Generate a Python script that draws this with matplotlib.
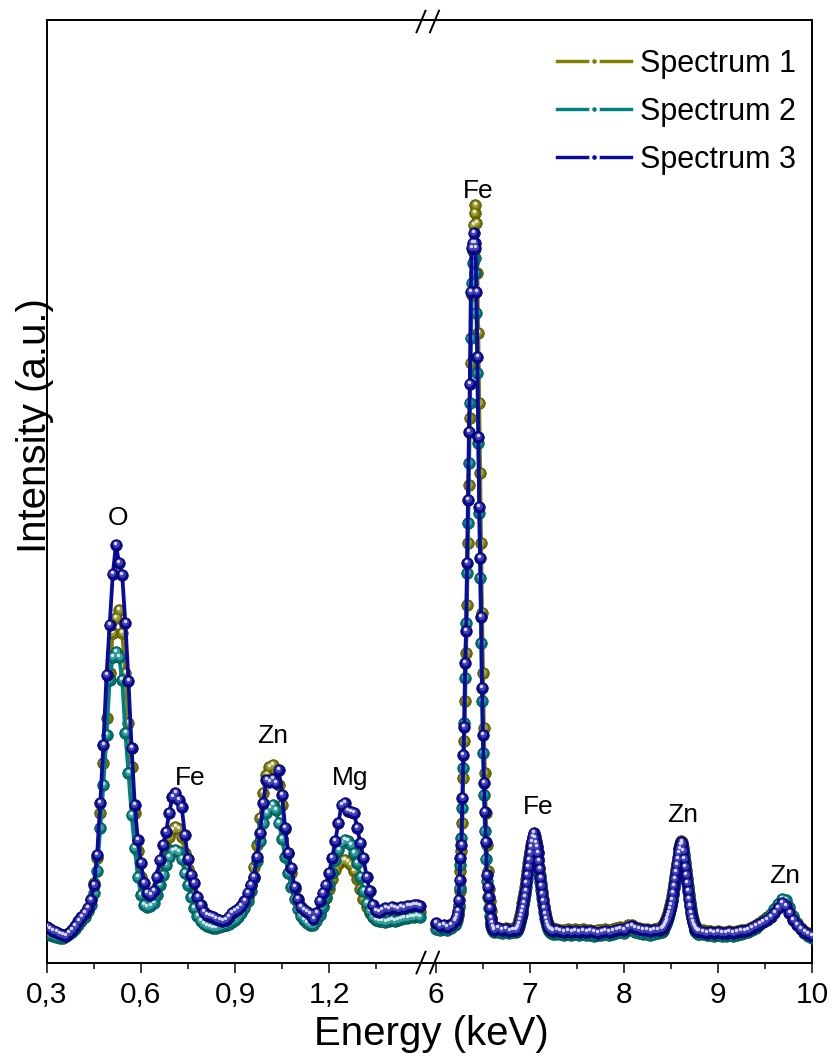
import numpy as np
import matplotlib
matplotlib.use("Agg")
import matplotlib.pyplot as plt
import matplotlib.transforms as mtransforms
from matplotlib.colors import to_rgb
from matplotlib.legend_handler import HandlerTuple
from matplotlib.lines import Line2D
from matplotlib.ticker import FixedLocator, FixedFormatter

plt.rcParams['font.family'] = ['Liberation Sans', 'DejaVu Sans']


def channels(start, stop, step):
    """Inclusive energy channel grid (keV)."""
    n = int(round((stop - start) / step)) + 1
    return np.round(start + step * np.arange(n), 2)


# ---------------- data ----------------
series_names = ['Spectrum 1', 'Spectrum 2', 'Spectrum 3']
series_colors = ['#808000', '#008080', '#0a0aa0']

# Low-energy window: O K, Fe L, Zn L, Mg K (0.01 keV channels)
low_energy = channels(0.30, 1.49, 0.01)
low_s1 = [33, 31, 30, 29, 28, 27, 28, 30, 33, 36,
          40, 44, 49, 55, 64, 80, 105, 150, 200, 245,
          290, 330, 345, 353, 330, 290, 240, 196, 150, 112,
          86, 70, 63, 62, 66, 76, 90, 104, 116, 126,
          133, 136, 134, 126, 110, 94, 80, 68, 58, 50,
          44, 41, 39, 38, 37, 37, 37, 38, 40, 42,
          45, 48, 52, 58, 66, 78, 96, 118, 145, 170,
          188, 196, 198, 192, 178, 158, 134, 110, 90, 74,
          62, 53, 47, 43, 40, 40, 44, 50, 57, 65,
          74, 84, 93, 99, 102, 103, 101, 98, 92, 84,
          74, 64, 56, 50, 46, 44, 43, 43, 44, 45,
          45, 46, 46, 47, 48, 48, 49, 50, 50, 51]
low_s2 = [30, 28, 27, 26, 25, 25, 27, 29, 31, 34,
          38, 42, 46, 52, 58, 70, 92, 135, 178, 228,
          283, 306, 311, 306, 283, 230, 190, 148, 115, 86,
          68, 58, 56, 57, 60, 68, 78, 88, 98, 106,
          112, 113, 111, 104, 90, 78, 66, 55, 47, 42,
          39, 37, 36, 35, 35, 36, 37, 38, 39, 41,
          43, 46, 50, 55, 62, 72, 85, 102, 122, 140,
          150, 155, 158, 153, 140, 124, 106, 90, 76, 64,
          54, 47, 43, 40, 38, 38, 42, 48, 56, 66,
          78, 90, 103, 113, 120, 123, 122, 118, 110, 100,
          86, 72, 60, 52, 46, 43, 42, 42, 41, 42,
          43, 42, 43, 44, 45, 45, 46, 46, 47, 46]
low_s3 = [36, 34, 32, 31, 29, 28, 27, 30, 33, 37,
          42, 46, 50, 55, 63, 78, 108, 160, 218, 288,
          338, 389, 418, 400, 388, 340, 282, 215, 158, 123,
          100, 80, 70, 68, 72, 86, 103, 118, 131, 150,
          166, 170, 163, 156, 128, 104, 88, 80, 66, 58,
          51, 48, 47, 46, 44, 43, 42, 43, 46, 50,
          52, 54, 57, 62, 70, 78, 86, 106, 130, 160,
          183, 181, 184, 180, 193, 168, 135, 110, 95, 76,
          64, 56, 53, 51, 49, 44, 50, 62, 70, 78,
          90, 105, 122, 140, 158, 160, 152, 151, 150, 135,
          120, 105, 86, 72, 58, 52, 51, 53, 55, 54,
          56, 55, 54, 56, 55, 57, 57, 58, 58, 57]

# High-energy window: Fe K and Zn K lines, fine channels across the peaks
high_bands = [(6.00, 6.20, 0.04), (6.21, 6.62, 0.01), (6.66, 6.82, 0.04),
              (6.85, 7.24, 0.01), (7.28, 8.36, 0.04), (8.40, 8.80, 0.01),
              (8.84, 10.00, 0.04)]
high_energy = np.concatenate([channels(*b) for b in high_bands])
high_s1 = [39, 37, 36, 37, 39, 41,
           42, 45, 49, 56, 72, 92, 112, 140, 185, 222,
           262, 310, 358, 420, 478, 545, 600, 668, 712, 738,
           750, 758, 740, 690, 630, 560, 490, 420, 350, 290,
           235, 190, 150, 118, 92, 74, 62, 52, 45, 40, 37, 35,
           35, 34, 35, 34, 35,
           35, 37, 40, 44, 48, 52, 56, 60, 65, 70,
           76, 84, 92, 100, 106, 112, 118, 122, 126, 128,
           127, 122, 117, 111, 104, 96, 88, 80, 72, 64,
           57, 51, 46, 42, 39, 37, 36, 35, 35, 34,
           34, 33, 33, 34, 33, 34, 33, 34, 33, 33,
           32, 33, 33, 34, 33, 34, 35, 36, 35, 38,
           38, 36, 35, 34, 34, 33, 34, 35,
           36, 37, 38, 40, 42, 44, 47, 50, 54, 58,
           62, 67, 73, 80, 87, 94, 100, 106, 111, 115,
           119, 122, 121, 116, 109, 101, 93, 85, 77, 69,
           61, 54, 48, 44, 40, 38, 36, 35, 34, 34, 33,
           33, 32, 32, 31, 32, 31, 31, 32, 31, 32,
           33, 33, 34, 36, 38, 40, 43, 46, 49, 53,
           58, 62, 60, 53, 45, 39, 35, 32, 30, 28]
high_s2 = [34, 33, 34, 33, 35, 38,
           40, 43, 48, 58, 75, 98, 125, 155, 195, 240,
           285, 340, 390, 440, 500, 560, 625, 680, 700, 712,
           705, 690, 650, 590, 520, 450, 385, 320, 262, 210,
           168, 132, 104, 82, 66, 55, 47, 41, 37, 34, 32, 31,
           31, 30, 31, 30, 31,
           31, 32, 34, 37, 41, 45, 49, 53, 58, 63,
           69, 76, 84, 92, 99, 105, 111, 116, 119, 121,
           119, 115, 110, 104, 97, 89, 81, 73, 65, 58,
           51, 45, 41, 37, 34, 32, 31, 30, 30, 29,
           29, 29, 28, 29, 28, 29, 28, 29, 28, 28,
           27, 28, 28, 29, 28, 29, 30, 31, 30, 33,
           33, 31, 30, 29, 29, 28, 29, 30,
           31, 32, 33, 35, 37, 39, 42, 45, 49, 53,
           57, 62, 68, 75, 82, 89, 95, 101, 106, 110,
           114, 117, 118, 114, 107, 99, 91, 83, 75, 67,
           59, 52, 46, 41, 37, 34, 32, 31, 30, 29, 29,
           29, 28, 28, 27, 28, 27, 27, 28, 27, 28,
           29, 30, 31, 33, 35, 38, 41, 45, 49, 54,
           59, 64, 63, 56, 47, 40, 34, 30, 27, 25]
high_s3 = [40, 37, 38, 36, 38, 42,
           44, 47, 52, 63, 83, 105, 118, 165, 208, 236,
           300, 332, 400, 463, 531, 579, 671, 715, 720, 730,
           720, 715, 671, 606, 526, 456, 405, 346, 275, 228,
           180, 151, 121, 88, 76, 66, 55, 45, 40, 36, 34, 33,
           35, 33, 34, 32, 33,
           33, 34, 36, 39, 43, 47, 51, 55, 60, 66,
           72, 80, 88, 96, 103, 110, 116, 121, 126, 130,
           125, 120, 116, 110, 102, 94, 85, 77, 69, 62,
           55, 49, 44, 40, 37, 35, 34, 33, 33, 32,
           33, 32, 31, 32, 31, 32, 31, 32, 31, 32,
           31, 30, 31, 32, 31, 32, 33, 34, 33, 36,
           37, 35, 34, 33, 33, 32, 33, 33,
           34, 35, 36, 38, 40, 42, 44, 47, 50, 54,
           58, 63, 70, 77, 84, 91, 98, 104, 110, 114,
           118, 121, 119, 112, 104, 96, 88, 80, 72, 64,
           57, 50, 45, 41, 38, 36, 34, 33, 32, 32, 32,
           31, 30, 31, 30, 31, 30, 30, 31, 30, 31,
           32, 32, 33, 35, 37, 39, 41, 43, 46, 50,
           55, 60, 57, 50, 43, 38, 34, 31, 29, 27]

left_ticks = [0.3, 0.6, 0.9, 1.2]
left_tick_labels = ['0,3', '0,6', '0,9', '1,2']
left_minor = [0.45, 0.75, 1.05, 1.35]
right_ticks = [6, 7, 8, 9, 10]
right_tick_labels = ['6', '7', '8', '9', '10']
right_minor = [6.5, 7.5, 8.5, 9.5]

# element assignments: (symbol, peak energy in keV)
peak_labels = [('O', 0.52), ('Fe', 0.71), ('Zn', 1.02), ('Mg', 1.25),
               ('Fe', 6.42), ('Fe', 7.04), ('Zn', 8.61), ('Zn', 9.68)]

low_all = np.array([low_s1, low_s2, low_s3], dtype=float)
high_all = np.array([high_s1, high_s2, high_s3], dtype=float)
assert low_all.shape[1] == len(low_energy), (low_all.shape, len(low_energy))
assert high_all.shape[1] == len(high_energy), (high_all.shape, len(high_energy))

# ---------------- figure ----------------
W, H = 833, 1057
PX = 72.0 / 100.0  # points per pixel at dpi 100
fig = plt.figure(figsize=(W / 100, H / 100), dpi=100)


def rect(x0, y0, x1, y1):
    return [x0 / W, 1 - y1 / H, (x1 - x0) / W, (y1 - y0) / H]


ax_l = fig.add_axes(rect(47, 20, 430, 963))
ax_r = fig.add_axes(rect(430, 20, 812, 963))
ax_l.set_xlim(0.30, 1.5223)
ax_r.set_xlim(5.936, 10.0)


def mix(c, target, t):
    c = np.array(to_rgb(c))
    w = np.array(to_rgb(target))
    return tuple(c + (w - c) * t)


def draw_series(ax, x, y, color, z):
    """Line plus shaded 'ball' symbols."""
    ax.plot(x, y, color=color, lw=3.8 * PX, zorder=z, solid_joinstyle='round')
    ax.plot(x, y, ls='none', marker='o', ms=11.5 * PX, mfc=mix(color, 'black', 0.1),
            mec=mix(color, 'black', 0.4), mew=0.8 * PX, zorder=z + 0.1)
    mid = mtransforms.offset_copy(ax.transData, fig=fig, x=-0.4, y=1.0, units='dots')
    ax.plot(x, y, ls='none', marker='o', ms=7 * PX, mfc=mix(color, 'white', 0.22),
            mec='none', transform=mid, zorder=z + 0.15)
    shine = mtransforms.offset_copy(ax.transData, fig=fig, x=-0.8, y=1.9, units='dots')
    ax.plot(x, y, ls='none', marker='o', ms=3.4 * PX, mfc=mix(color, 'white', 0.85),
            mec='none', transform=shine, zorder=z + 0.2)


for k, color in enumerate(series_colors):
    draw_series(ax_l, low_energy, low_all[k], color, 2 + k)
    draw_series(ax_r, high_energy, high_all[k], color, 2 + k)

for ax in (ax_l, ax_r):
    ax.set_ylim(0, 943)
    ax.set_yticks([])
    for s in ax.spines.values():
        s.set_linewidth(1.4)
    ax.tick_params(axis='x', which='major', direction='out', length=10 * PX,
                   width=1.5 * PX, labelsize=21.5, pad=5.5)
    ax.tick_params(axis='x', which='minor', direction='out', length=6 * PX,
                   width=1.5 * PX)
ax_l.spines['right'].set_visible(False)
ax_r.spines['left'].set_visible(False)

ax_l.xaxis.set_major_locator(FixedLocator(left_ticks))
ax_l.xaxis.set_major_formatter(FixedFormatter(left_tick_labels))
ax_l.xaxis.set_minor_locator(FixedLocator(left_minor))
ax_r.xaxis.set_major_locator(FixedLocator(right_ticks))
ax_r.xaxis.set_major_formatter(FixedFormatter(right_tick_labels))
ax_r.xaxis.set_minor_locator(FixedLocator(right_minor))

# peak assignments, offset (pixels) from the tallest point of the peak
label_offsets = [(1.6, 20), (14.5, 8), (0.4, 22), (5.3, 18),
                 (2.5, 7), (4.7, 19), (1.2, 19), (2.6, 16)]
for (sym, energy), (dx, dy) in zip(peak_labels, label_offsets):
    if energy < 3:
        ax, e, vals = ax_l, low_energy, low_all
    else:
        ax, e, vals = ax_r, high_energy, high_all
    i = int(np.argmin(np.abs(e - energy)))
    ax.annotate(sym, xy=(e[i], vals[:, i].max()), xytext=(dx, dy),
                textcoords='offset pixels', ha='center', va='baseline',
                fontsize=19, zorder=10)

# axis break marks on the top and bottom frame
for yb in (21.5, 962.5):
    for xc in (421.0, 434.5):
        fig.add_artist(Line2D([(xc - 4.5) / W, (xc + 4.5) / W],
                              [1 - (yb + 10.8) / H, 1 - (yb - 10.8) / H],
                              transform=fig.transFigure, color='black',
                              lw=1.4, clip_on=False))

fig.text(431 / W, 1 - 1045 / H, 'Energy (keV)', ha='center', va='baseline',
         fontsize=29)
fig.text(54 / W, 1 - 426 / H, 'Intensity (a.u.)', rotation=90,
         ha='right', va='center', fontsize=29)

handles = []
for color in series_colors:
    line = Line2D([], [], color=color, lw=3.4 * PX)
    gap = Line2D([], [], ls='none', marker='o', ms=10.5 * PX, mfc='white', mec='none')
    dot = Line2D([], [], ls='none', marker='o', ms=4.6 * PX, mfc=color, mec='none')
    handles.append((line, gap, dot))
fig.legend(handles, series_names, handler_map={tuple: HandlerTuple(ndivide=1, pad=0)},
           loc='upper left', bbox_to_anchor=(557 / W, 1 - 49 / H),
           bbox_transform=fig.transFigure, frameon=False, fontsize=22,
           handlelength=2.42, handletextpad=0.28, labelspacing=0.59,
           borderpad=0, borderaxespad=0)

fig.savefig('out.png', dpi=100)
